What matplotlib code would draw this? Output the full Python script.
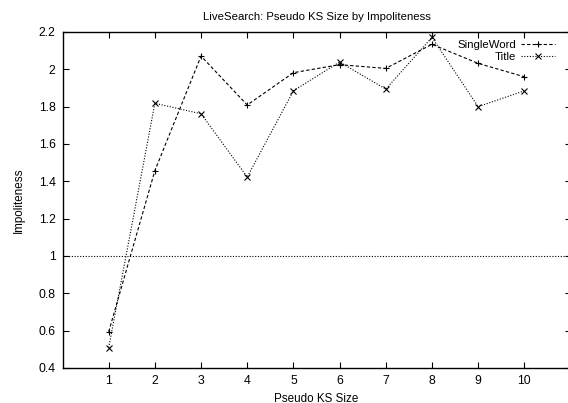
import numpy as np
import matplotlib.pyplot as plt

plt.rc('font', family='Liberation Sans', size=8)

# pseudo KS size vs impoliteness, two query types
ks_size = [1, 2, 3, 4, 5, 6, 7, 8, 9, 10]
single_word = [0.594, 1.457, 2.071, 1.809, 1.982, 2.025, 2.005, 2.134, 2.032, 1.960]
title = [0.509, 1.818, 1.762, 1.423, 1.885, 2.039, 1.894, 2.171, 1.800, 1.885]

fig = plt.figure(figsize=(5.68, 4.03), dpi=100)
ax = fig.add_axes([62.5 / 568, 35 / 403, 508 / 568, 336 / 403])

ax.axhline(1.0, color='black', lw=0.8, ls=(0, (1, 1.5)))
ax.plot(ks_size, single_word, color='black', lw=0.8, ls=(0, (3, 2)),
        marker='+', markersize=4.5, markeredgewidth=0.8, label='SingleWord')
ax.plot(ks_size, title, color='black', lw=0.8, ls=(0, (1, 1.5)),
        marker='x', markersize=4, markeredgewidth=0.8, label='Title')

ax.set_xlim(0, 11)
ax.set_ylim(0.4, 2.2)
ax.set_xticks(ks_size)
ax.set_yticks(np.arange(0.4, 2.21, 0.2))
ax.set_yticklabels(['0.4', '0.6', '0.8', '1', '1.2', '1.4', '1.6', '1.8', '2', '2.2'])
ax.tick_params(direction='in', length=4, width=0.8, top=True, right=True,
               pad=5, labelsize=8.8)
for s in ax.spines.values():
    s.set_linewidth(1.0)

ax.set_title('LiveSearch: Pseudo KS Size by Impoliteness', fontsize=8.2, pad=9)
ax.set_xlabel('Pseudo KS Size', fontsize=8.4, labelpad=4)
ax.set_ylabel('Impoliteness', fontsize=8.4, labelpad=10)

leg = ax.legend(loc='upper right', bbox_to_anchor=(0.985, 1.0), frameon=False,
                markerfirst=False, handlelength=3.0, handletextpad=0.4,
                labelspacing=0.15, borderaxespad=0.3, fontsize=8.2)
for t in leg.get_texts():
    t.set_ha('right')

fig.savefig('out.png', dpi=100)
